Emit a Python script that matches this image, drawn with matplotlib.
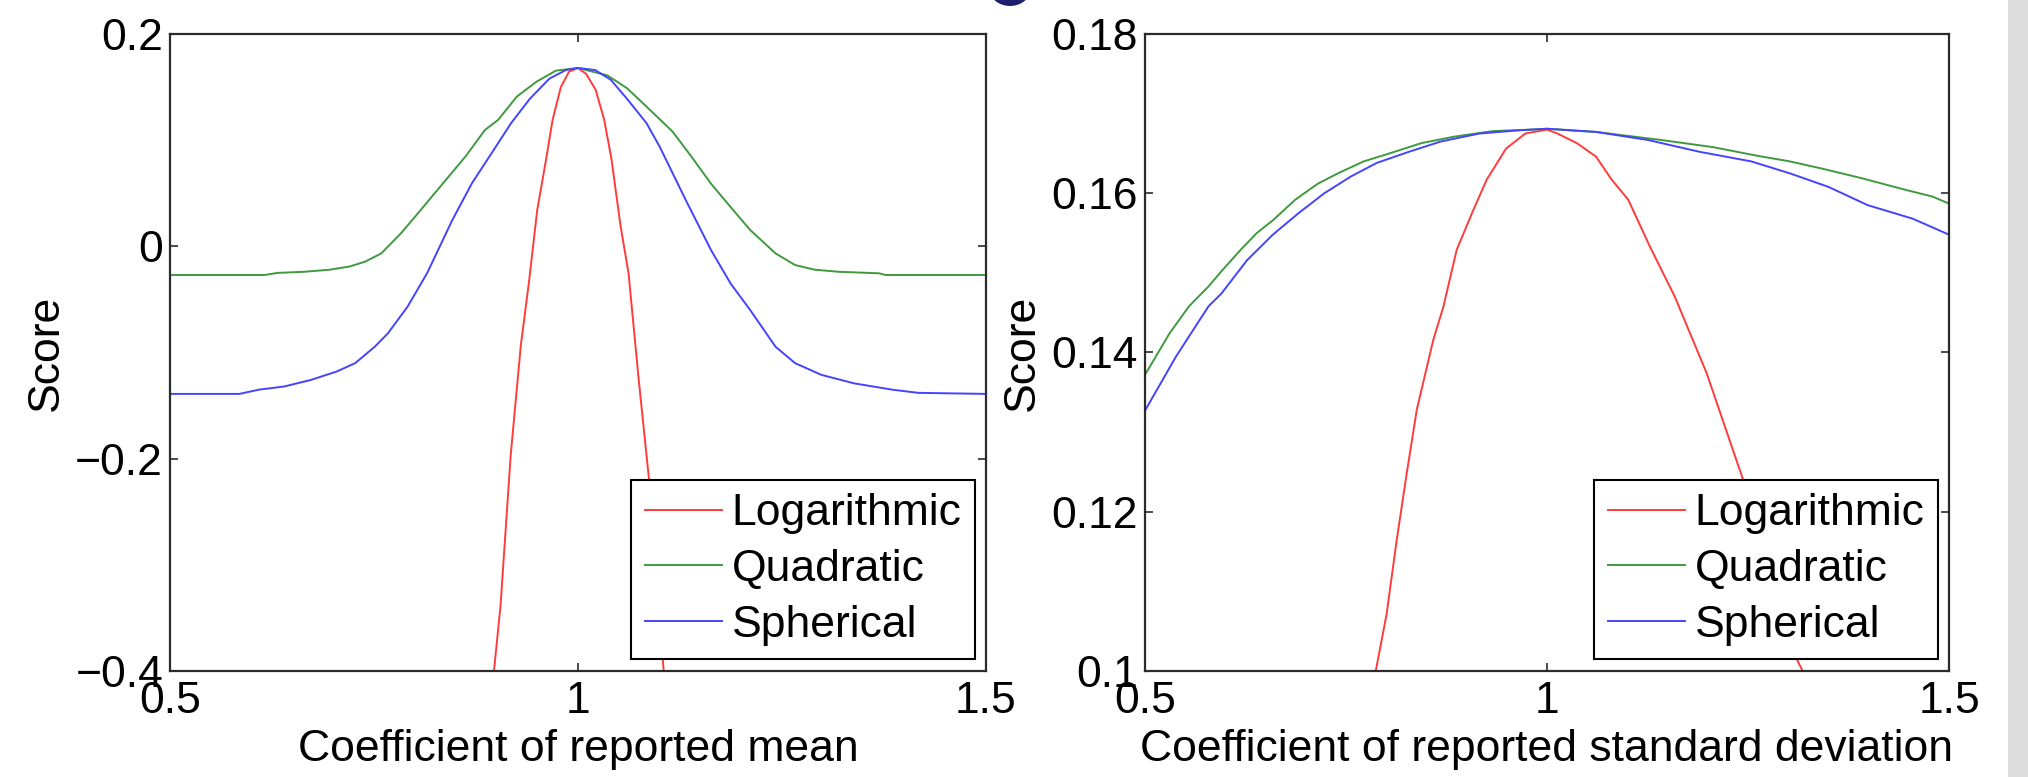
import matplotlib
matplotlib.use('Agg')
import matplotlib.pyplot as plt
from matplotlib.patches import Rectangle, Ellipse

plt.rcParams['font.family'] = ['Liberation Sans', 'DejaVu Sans']

# ---------------- data ----------------
series_names = ['Logarithmic', 'Quadratic', 'Spherical']

# Left panel: coefficient of reported mean
mean_log_x = [0.897, 0.905, 0.9175, 0.930, 0.940, 0.950, 0.961, 0.969, 0.979, 0.989, 1.0,
              1.010, 1.0216, 1.032, 1.041, 1.052, 1.062, 1.074, 1.087, 1.095, 1.105]
mean_log_y = [-0.4, -0.339, -0.197, -0.0927, -0.0331, 0.034, 0.0824, 0.1196, 0.150, 0.1645, 0.168,
              0.1624, 0.1475, 0.1196, 0.0824, 0.02, -0.0257, -0.1225, -0.2193, -0.30, -0.4]

mean_quad_x = [0.5, 0.616, 0.632, 0.664, 0.696, 0.72, 0.739, 0.759, 0.783, 0.807, 0.838, 0.862,
               0.886, 0.902, 0.925, 0.949, 0.973, 1.0, 1.036, 1.06, 1.084, 1.116, 1.139, 1.163,
               1.187, 1.211, 1.242, 1.266, 1.29, 1.32, 1.369, 1.377, 1.5]
mean_quad_y = [-0.027, -0.027, -0.025, -0.024, -0.022, -0.019, -0.0145, -0.0066, 0.0122, 0.034,
               0.0625, 0.0845, 0.1096, 0.119, 0.141, 0.155, 0.1655, 0.168, 0.161, 0.149, 0.1316,
               0.108, 0.0845, 0.059, 0.037, 0.0154, -0.0066, -0.0176, -0.022, -0.024, -0.0254,
               -0.027, -0.027]

mean_sph_x = [0.5, 0.585, 0.609, 0.64, 0.672, 0.704, 0.727, 0.751, 0.767, 0.791, 0.815, 0.846,
              0.870, 0.894, 0.918, 0.941, 0.965, 0.985, 1.0, 1.021, 1.04, 1.06, 1.084, 1.1,
              1.132, 1.163, 1.187, 1.211, 1.242, 1.266, 1.298, 1.338, 1.385, 1.417, 1.5]
mean_sph_y = [-0.139, -0.139, -0.135, -0.132, -0.126, -0.118, -0.110, -0.0945, -0.082, -0.057,
              -0.0254, 0.0248, 0.0594, 0.0876, 0.116, 0.139, 0.158, 0.166, 0.168, 0.166, 0.157,
              0.139, 0.116, 0.094, 0.0437, -0.0035, -0.035, -0.06, -0.0945, -0.110, -0.121,
              -0.129, -0.135, -0.138, -0.139]

# Right panel: coefficient of reported standard deviation
sd_log_x = [0.787, 0.8006, 0.813, 0.8255, 0.838, 0.8586, 0.871, 0.8877, 0.9084, 0.925, 0.949,
            0.973, 1.0, 1.013, 1.037, 1.061, 1.0805, 1.101, 1.128, 1.159, 1.1986, 1.244, 1.28,
            1.3106, 1.318]
sd_log_y = [0.100, 0.1072, 0.1164, 0.1248, 0.1328, 0.1416, 0.1457, 0.1529, 0.1579, 0.1617, 0.1656,
            0.1675, 0.168, 0.1675, 0.1663, 0.1646, 0.1617, 0.1592, 0.1533, 0.147, 0.1374, 0.124,
            0.112, 0.1015, 0.100]

sd_quad_x = [0.5, 0.5305, 0.5547, 0.579, 0.595, 0.619, 0.639, 0.659, 0.687, 0.715, 0.740, 0.772,
             0.804, 0.844, 0.884, 0.932, 0.981, 1.0, 1.061, 1.109, 1.141, 1.206, 1.262, 1.302,
             1.342, 1.391, 1.447, 1.479, 1.5]
sd_quad_y = [0.1372, 0.1424, 0.1458, 0.1483, 0.1502, 0.1529, 0.155, 0.1566, 0.1592, 0.1612, 0.1625,
             0.164, 0.165, 0.1663, 0.1671, 0.1678, 0.168, 0.1681, 0.1677, 0.1671, 0.1667, 0.1658,
             0.1647, 0.164, 0.1631, 0.1619, 0.1604, 0.1596, 0.1587]

sd_sph_x = [0.5, 0.5386, 0.579, 0.595, 0.627, 0.659, 0.691, 0.723, 0.756, 0.788, 0.828, 0.868,
            0.916, 0.965, 1.0, 1.061, 1.125, 1.19, 1.254, 1.302, 1.35, 1.399, 1.455, 1.5]
sd_sph_y = [0.1327, 0.1395, 0.1458, 0.1474, 0.1516, 0.1548, 0.1575, 0.16, 0.1621, 0.1638, 0.1652,
            0.1665, 0.1675, 0.1679, 0.1681, 0.1677, 0.1667, 0.1652, 0.164, 0.1625, 0.1608, 0.1585,
            0.1568, 0.1548]

x_ticks = [0.5, 1.0, 1.5]
x_tick_labels = ['0.5', '1', '1.5']
mean_y_ticks = [-0.4, -0.2, 0.0, 0.2]
mean_y_tick_labels = ['\u22120.4', '\u22120.2', '0', '0.2']
sd_y_ticks = [0.10, 0.12, 0.14, 0.16, 0.18]
sd_y_tick_labels = ['0.1', '0.12', '0.14', '0.16', '0.18']

x_labels = ['Coefficient of reported mean', 'Coefficient of reported standard deviation']
y_label = 'Score'

# ---------------- figure ----------------
W, H = 2028, 777
fig = plt.figure(figsize=(W / 100, H / 100), dpi=100)
fig.patch.set_facecolor('white')

FS = 32
COLORS = ['#ff3b3b', '#3f9a3f', '#4444ff']
SPINE = '#2b2b2b'


def px_axes(x0, x1, ytop, ybot):
    return fig.add_axes([x0 / W, 1 - ybot / H, (x1 - x0) / W, (ybot - ytop) / H])


ax1 = px_axes(170, 986, 34, 671)
ax2 = px_axes(1145, 1949, 34, 671)

panels = [
    (ax1, [(mean_log_x, mean_log_y), (mean_quad_x, mean_quad_y), (mean_sph_x, mean_sph_y)],
     (-0.4, 0.2), mean_y_ticks, mean_y_tick_labels, x_labels[0], (975 - 170) / 816),
    (ax2, [(sd_log_x, sd_log_y), (sd_quad_x, sd_quad_y), (sd_sph_x, sd_sph_y)],
     (0.1, 0.18), sd_y_ticks, sd_y_tick_labels, x_labels[1], (1938 - 1145) / 804),
]

for ax, data, ylim, yt, ytl, xl, leg_x in panels:
    for (xs, ys), name, c in zip(data, series_names, COLORS):
        ax.plot(xs, ys, color=c, lw=1.4, label=name, solid_joinstyle='round')
    ax.set_xlim(0.5, 1.5)
    ax.set_ylim(*ylim)
    ax.set_xticks(x_ticks)
    ax.set_xticklabels(x_tick_labels)
    ax.set_yticks(yt)
    ax.set_yticklabels(ytl)
    ax.tick_params(axis='both', direction='in', length=6, width=1.2, colors=SPINE,
                   labelcolor='black', labelsize=FS, top=True, right=True)
    ax.tick_params(axis='x', pad=7)
    ax.tick_params(axis='y', pad=5)
    for s in ax.spines.values():
        s.set_linewidth(1.6)
        s.set_color(SPINE)
    ax.set_xlabel(xl, fontsize=FS, labelpad=5)
    ax.set_ylabel(y_label, fontsize=FS, labelpad=6)
    leg = ax.legend(loc='lower right', bbox_to_anchor=(leg_x, (671 - 659) / 637),
                    borderaxespad=0, fontsize=FS, frameon=True, fancybox=False,
                    framealpha=1, edgecolor='black', handlelength=1.73,
                    handletextpad=0.23, borderpad=0.3, labelspacing=0.33)
    leg.get_frame().set_linewidth(1.5)

# decorative remnants of the source page
fig.patches.append(Rectangle((2008 / W, 0), 20 / W, 1, transform=fig.transFigure,
                             facecolor='#dcdcdc', edgecolor='none', zorder=0))
fig.patches.append(Ellipse((1010 / W, 1 + 12 / H), 42 / W, 36 / H, transform=fig.transFigure,
                           facecolor='#1c1f6b', edgecolor='none', zorder=0))

fig.savefig('out.png', dpi=100)
